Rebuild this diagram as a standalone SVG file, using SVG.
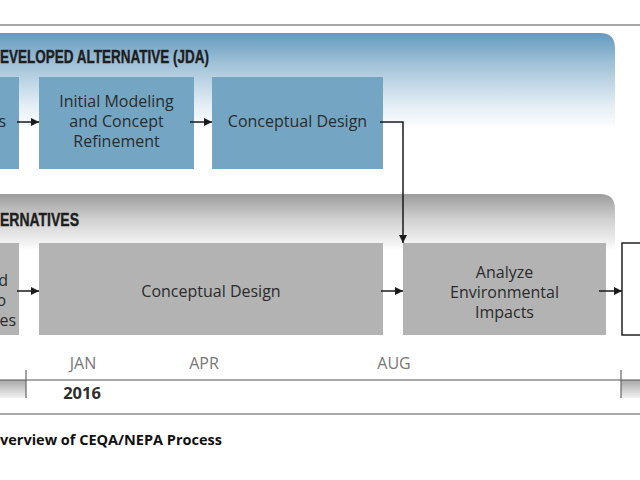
<svg xmlns="http://www.w3.org/2000/svg" width="640" height="480" viewBox="0 0 640 480">
  <defs>
    <linearGradient id="gBlue" x1="0" y1="33" x2="0" y2="194" gradientUnits="userSpaceOnUse">
      <stop offset="0" stop-color="#6499be"/>
      <stop offset="0.2" stop-color="#a3c3d9"/>
      <stop offset="0.45" stop-color="#e4eef5"/>
      <stop offset="0.6" stop-color="#ffffff"/>
      <stop offset="1" stop-color="#ffffff"/>
    </linearGradient>
    <linearGradient id="gGray" x1="0" y1="194" x2="0" y2="250" gradientUnits="userSpaceOnUse">
      <stop offset="0" stop-color="#9c9c9c"/>
      <stop offset="0.45" stop-color="#d0d0d0"/>
      <stop offset="0.9" stop-color="#f4f4f4"/>
      <stop offset="1" stop-color="#ffffff"/>
    </linearGradient>
    <linearGradient id="gBar" x1="0" y1="380" x2="0" y2="398" gradientUnits="userSpaceOnUse">
      <stop offset="0" stop-color="#a8a8a8"/>
      <stop offset="1" stop-color="#f2f2f2"/>
    </linearGradient>
    <marker id="ah" markerUnits="userSpaceOnUse" markerWidth="9" markerHeight="9" refX="8" refY="4.5" orient="auto">
      <path d="M0,0.5 L8,4.5 L0,8.5 z" fill="#1a1a1a"/>
    </marker>
    <style>
      .blue { fill: #74a6c4; }
      .gray { fill: #b3b3b3; }
      .lbl { font-family: "Open Sans", "Liberation Sans", sans-serif; font-size: 16px; fill: #2b2b2b; text-anchor: middle; }
      .lblp { font-family: "Open Sans", "Liberation Sans", sans-serif; font-size: 16px; fill: #2b2b2b; text-anchor: end; }
      .ttl { font-family: "Liberation Sans", sans-serif; font-weight: bold; font-size: 19px; fill: #1e1e1e; stroke: #1e1e1e; stroke-width: 0.4; }
      .mon { font-family: "Open Sans", "Liberation Sans", sans-serif; font-size: 16px; fill: #777777; text-anchor: middle; }
      .yr { font-family: "Open Sans", "Liberation Sans", sans-serif; font-size: 16.5px; font-weight: bold; fill: #2e2e2e; text-anchor: middle; }
      .cap { font-family: "Open Sans", "Liberation Sans", sans-serif; font-size: 14.5px; font-weight: bold; fill: #111; }
      .conn { fill: none; stroke: #1a1a1a; stroke-width: 1.5; }
      .rule { stroke: #555; stroke-width: 1.2; }
    </style>
  </defs>

  <rect x="0" y="0" width="640" height="480" fill="#ffffff"/>

  <!-- frame lines -->
  <line class="rule" x1="0" y1="25" x2="640" y2="25"/>
  <line class="rule" x1="0" y1="414" x2="640" y2="414"/>

  <!-- panels -->
  <g id="panel-jda">
    <path d="M-10,33 H600 Q615,33 615,48 V194 H-10 Z" fill="url(#gBlue)"/>
    <text class="ttl" x="0" y="63" textLength="209" lengthAdjust="spacingAndGlyphs">EVELOPED ALTERNATIVE (JDA)</text>
  </g>
  <g id="panel-alt">
    <path d="M-10,194 H600 Q615,194 615,209 V340 H-10 Z" fill="url(#gGray)"/>
    <text class="ttl" x="0" y="226" textLength="79" lengthAdjust="spacingAndGlyphs">ERNATIVES</text>
  </g>

  <!-- JDA row -->
  <g id="jda-1">
    <rect class="blue" x="-10" y="77" width="29" height="92"/>
    <text class="lblp" x="6" y="127">s</text>
  </g>
  <g id="jda-2">
    <rect class="blue" x="39" y="77" width="155" height="92"/>
    <text class="lbl" x="116.5" y="107">Initial Modeling</text>
    <text class="lbl" x="116.5" y="127">and Concept</text>
    <text class="lbl" x="116.5" y="146.5">Refinement</text>
  </g>
  <g id="jda-3">
    <rect class="blue" x="212" y="77" width="171" height="92"/>
    <text class="lbl" x="297.5" y="127">Conceptual Design</text>
  </g>

  <!-- Alternatives row -->
  <g id="alt-1">
    <rect class="gray" x="-10" y="243" width="29" height="92"/>
    <text class="lblp" x="8" y="286">d</text>
    <text class="lblp" x="6" y="306">o</text>
    <text class="lblp" x="16" y="326">es</text>
  </g>
  <g id="alt-2">
    <rect class="gray" x="39" y="243" width="344" height="92"/>
    <text class="lbl" x="211" y="297">Conceptual Design</text>
  </g>
  <g id="alt-3">
    <rect class="gray" x="403" y="243" width="203" height="92"/>
    <text class="lbl" x="504.5" y="278">Analyze</text>
    <text class="lbl" x="504.5" y="298">Environmental</text>
    <text class="lbl" x="504.5" y="317.5">Impacts</text>
  </g>
  <g id="next-box">
    <rect x="622" y="243" width="40" height="92" fill="#ffffff" stroke="#222" stroke-width="1.5"/>
  </g>

  <!-- connectors -->
  <g id="connectors">
    <path class="conn" d="M17,122 H39" marker-end="url(#ah)"/>
    <path class="conn" d="M190,122 H212" marker-end="url(#ah)"/>
    <path class="conn" d="M380,122 H403 V243" marker-end="url(#ah)"/>
    <path class="conn" d="M17,291 H39" marker-end="url(#ah)"/>
    <path class="conn" d="M381,291 H403" marker-end="url(#ah)"/>
    <path class="conn" d="M599,291 H622" marker-end="url(#ah)"/>
  </g>

  <!-- timeline -->
  <g id="timeline">
    <rect x="0" y="380" width="26" height="18" fill="url(#gBar)"/>
    <rect x="621" y="380" width="19" height="18" fill="url(#gBar)"/>
    <line x1="0" y1="380" x2="640" y2="380" stroke="#555" stroke-width="1"/>
    <line x1="26" y1="370" x2="26" y2="398" stroke="#666" stroke-width="1.2"/>
    <line x1="621" y1="370" x2="621" y2="398" stroke="#666" stroke-width="1.2"/>
    <text class="mon" x="83" y="369">JAN</text>
    <text class="mon" x="204" y="369">APR</text>
    <text class="mon" x="394" y="369">AUG</text>
    <text class="yr" x="82" y="399">2016</text>
  </g>

  <text class="cap" x="0" y="445">verview of CEQA/NEPA Process</text>
</svg>
